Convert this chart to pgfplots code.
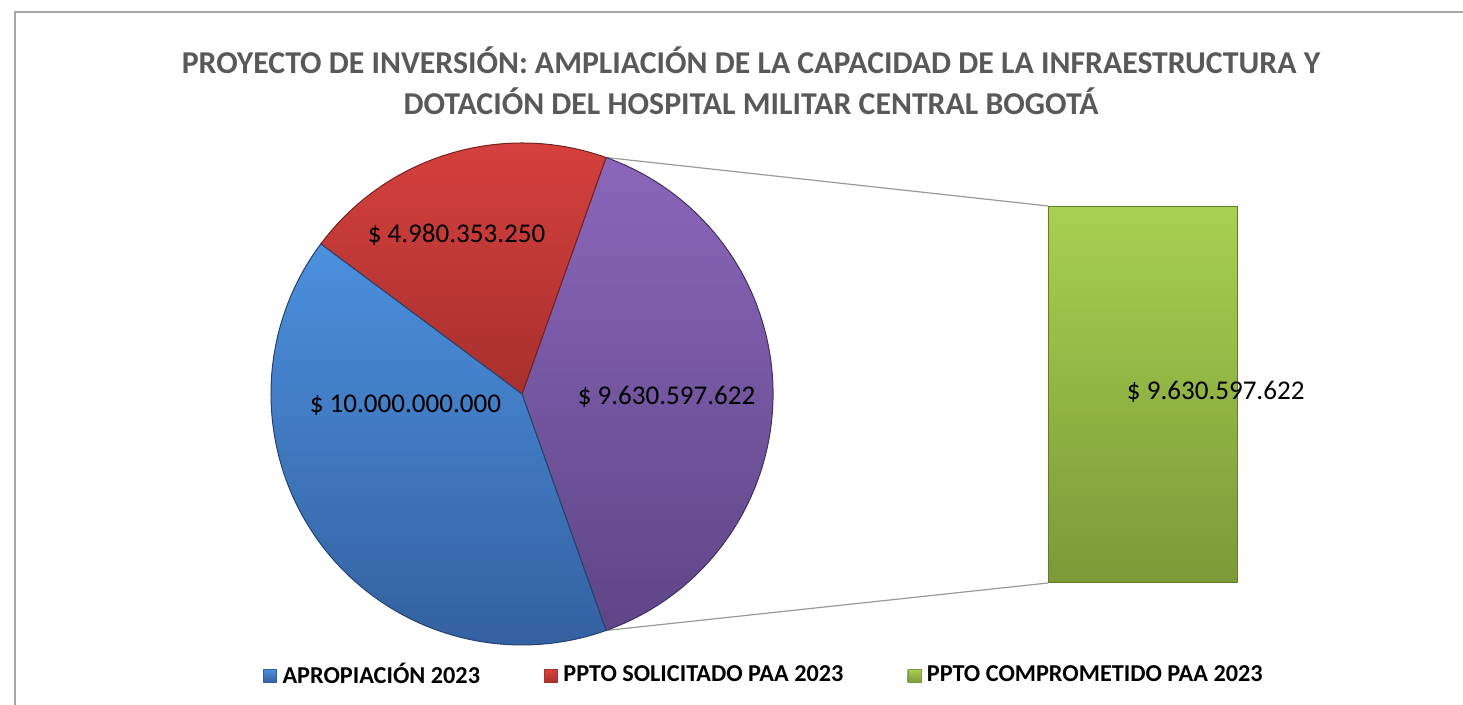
\documentclass[border=0pt]{standalone}
\usepackage{pgfplots}
\pgfplotsset{compat=1.18}
\usepackage{fontspec}
\setmainfont{Carlito}
\definecolor{titlegray}{HTML}{595959}
\definecolor{frameg}{HTML}{A6A6A6}
\definecolor{blueT}{HTML}{4C90DE}
\definecolor{blueB}{HTML}{335F9E}
\definecolor{redT}{HTML}{D8423F}
\definecolor{redB}{HTML}{A8302E}
\definecolor{purT}{HTML}{8B66BA}
\definecolor{purB}{HTML}{5E4687}
\definecolor{grnT}{HTML}{A8D051}
\definecolor{grnB}{HTML}{7B9A38}
\begin{document}
\begin{tikzpicture}
% values in thousands of millions of pesos
\pgfmathsetmacro{\vA}{10.0}        % APROPIACION 2023
\pgfmathsetmacro{\vB}{4.98035325}  % PPTO SOLICITADO PAA 2023
\pgfmathsetmacro{\vC}{9.630597622} % PPTO COMPROMETIDO PAA 2023
\pgfmathsetmacro{\tot}{\vA+\vB+\vC}
\pgfmathsetmacro{\sC}{-180*\vC/\tot}
\pgfmathsetmacro{\eC}{180*\vC/\tot}
\pgfmathsetmacro{\eB}{\eC+360*\vB/\tot}
\pgfmathsetmacro{\eA}{\eB+360*\vA/\tot}
\begin{axis}[at={(0,0)}, anchor=south west, scale only axis,
  width=14.63cm, height=7.05cm, xmin=0, xmax=1463, ymin=0, ymax=705,
  hide axis, clip=false,
  legend columns=3,
  legend style={at={(axis cs:766,29)}, anchor=center, draw=none, fill=none,
    font=\bfseries\fontsize{6.9}{8}\selectfont,
    nodes={inner sep=0.6mm},
    /tikz/every even column/.append style={column sep=5.8mm}},
]
\addlegendimage{legend image code/.code={\shade[top color=blueT,bottom color=blueB,draw=blueB,line width=0.1pt] (0,-0.65mm) rectangle (1.3mm,0.65mm);}}
\addlegendentry{APROPIACIÓN 2023}
\addlegendimage{legend image code/.code={\shade[top color=redT,bottom color=redB,draw=redB,line width=0.1pt] (0,-0.65mm) rectangle (1.3mm,0.65mm);}}
\addlegendentry{PPTO SOLICITADO PAA 2023}
\addlegendimage{legend image code/.code={\shade[top color=grnT,bottom color=grnB,draw=grnB,line width=0.1pt] (0,-0.65mm) rectangle (1.3mm,0.65mm);}}
\addlegendentry{PPTO COMPROMETIDO PAA 2023}
% frame
\draw[frameg, line width=0.2mm] (axis cs:15,-20) -- (axis cs:15,693) -- (axis cs:1500,693);
% connectors
\draw[black!40, line width=0.12mm] (axis cs:522,311) ++(\eC:25.1mm) -- (axis cs:1048,499);
\draw[black!40, line width=0.12mm] (axis cs:522,311) ++(\sC:25.1mm) -- (axis cs:1048,122);
% pie slices
\shade[top color=purT, bottom color=purB, draw=purB!70!black, line width=0.1mm]
  (axis cs:522,311) -- ++(\sC:25.1mm) arc[start angle=\sC, end angle=\eC, radius=25.1mm] -- cycle;
\shade[top color=redT, bottom color=redB, draw=redB!70!black, line width=0.1mm]
  (axis cs:522,311) -- ++(\eC:25.1mm) arc[start angle=\eC, end angle=\eB, radius=25.1mm] -- cycle;
\shade[top color=blueT, bottom color=blueB, draw=blueB!70!black, line width=0.1mm]
  (axis cs:522,311) -- ++(\eB:25.1mm) arc[start angle=\eB, end angle=\eA, radius=25.1mm] -- cycle;
% data labels
\node[font=\fontsize{7.7}{9}\selectfont] at (axis cs:405.5,300) {\$ 10.000.000.000};
\node[font=\fontsize{7.7}{9}\selectfont] at (axis cs:456.5,470) {\$ 4.980.353.250};
\node[font=\fontsize{7.7}{9}\selectfont] at (axis cs:666.5,308) {\$ 9.630.597.622};
% title
\node[font=\bfseries\fontsize{9.05}{11}\selectfont, text=titlegray] at (axis cs:751,645) {PROYECTO DE INVERSIÓN: AMPLIACIÓN DE LA CAPACIDAD DE LA INFRAESTRUCTURA Y};
\node[font=\bfseries\fontsize{9.05}{11}\selectfont, text=titlegray] at (axis cs:751,604) {DOTACIÓN DEL HOSPITAL MILITAR CENTRAL BOGOTÁ};
\end{axis}
\begin{axis}[at={(104.8mm,12.2mm)}, anchor=south west, scale only axis,
  width=18.9mm, height=37.7mm, xmin=0, xmax=1, ymin=0, ymax=9.630597622,
  hide axis, clip=false]
\addplot[ybar, bar width=18.9mm, top color=grnT, bottom color=grnB, draw=grnB!80!black, line width=0.1mm]
  coordinates {(0.5,9.630597622)};
\end{axis}
\begin{axis}[at={(0,0)}, anchor=south west, scale only axis,
  width=14.63cm, height=7.05cm, xmin=0, xmax=1463, ymin=0, ymax=705,
  hide axis, clip=false]
\node[font=\fontsize{7.7}{9}\selectfont] at (axis cs:1215.7,313) {\$ 9.630.597.622};
\end{axis}
\pgfresetboundingbox
\useasboundingbox (0,0) rectangle (14.63cm,7.05cm);
\end{tikzpicture}
\end{document}
